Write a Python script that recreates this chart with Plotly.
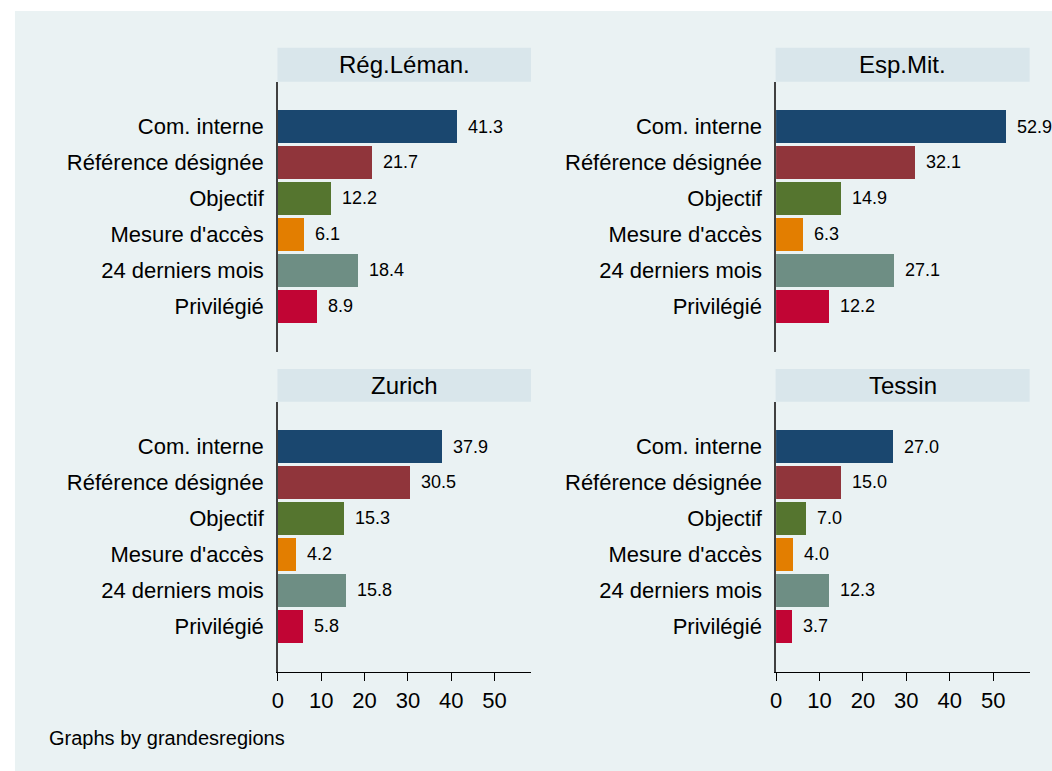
import plotly.graph_objects as go

W, H = 1052, 771

categories = ["Com. interne", "Référence désignée", "Objectif", "Mesure d'accès",
              "24 derniers mois", "Privilégié"]
colors = ["#1A476F", "#90353B", "#55752F", "#E37E00", "#6E8E84", "#C10534"]

regions = ["Rég.Léman.", "Esp.Mit.", "Zurich", "Tessin"]
leman = [41.3, 21.7, 12.2, 6.1, 18.4, 8.9]
espmit = [52.9, 32.1, 14.9, 6.3, 27.1, 12.2]
zurich = [37.9, 30.5, 15.3, 4.2, 15.8, 5.8]
tessin = [27.0, 15.0, 7.0, 4.0, 12.3, 3.7]
values = [leman, espmit, zurich, tessin]

x_ticks = [0, 10, 20, 30, 40, 50]

BG = "#EAF2F3"
STRIP = "#D9E6EB"
FONT = "Liberation Sans, Arial, sans-serif"


def px_x(p):
    return p / W


def px_y(p):
    return 1 - p / H


# panel positions in page pixels
col_x = [(273.5, 528.0), (774.5, 1029.5)]
row_y = [(82.0, 352.0), (402.0, 672.0)]
strip_y = [(47.7, 81.7), (369.0, 401.7)]

fig = go.Figure()
shapes = []
annotations = []

# light background box
shapes.append(dict(type="rect", xref="paper", yref="paper", layer="below",
                   x0=px_x(9), x1=1, y0=0, y1=px_y(11),
                   fillcolor=BG, line_width=0))

for k, (name, vals) in enumerate(zip(regions, values)):
    r, c = divmod(k, 2)
    ax = "" if k == 0 else str(k + 1)
    x0, x1 = col_x[c]
    y0, y1 = row_y[r]

    fig.add_trace(go.Bar(
        x=vals, y=categories, orientation="h",
        marker=dict(color=colors, line_width=0),
        width=0.92, showlegend=False,
        xaxis="x" + ax, yaxis="y" + ax,
        hovertemplate="%{y}: %{x:.1f}<extra>" + name + "</extra>",
    ))

    for cat, v in zip(categories, vals):
        annotations.append(dict(
            x=v, y=cat, xref="x" + ax, yref="y" + ax,
            text=f"{v:.1f}", showarrow=False, xanchor="left", xshift=9,
            font=dict(size=18, color="black", family=FONT),
        ))

    bottom = r == 1
    fig.update_layout({
        "xaxis" + ax: dict(
            domain=[px_x(x0), px_x(x1)], range=[0, 58.4], anchor="y" + ax,
            showgrid=True, gridcolor=BG, gridwidth=1.5, zeroline=False,
            tickvals=x_ticks, showticklabels=bottom,
            ticks="outside" if bottom else "", ticklen=8, tickcolor="black",
            showline=bottom, linecolor="black", linewidth=1.2,
            tickfont=dict(size=22, color="black", family=FONT),
            fixedrange=True,
        ),
        "yaxis" + ax: dict(
            domain=[px_y(y1), px_y(y0)], anchor="x" + ax,
            type="category", range=[6.28, -1.24],
            showgrid=False, zeroline=False,
            showline=True, linecolor="#404040", linewidth=1.5,
            ticks="", ticklabelstandoff=8,
            tickfont=dict(size=22, color="black", family=FONT),
            fixedrange=True,
        ),
    })

    sy0, sy1 = strip_y[r]
    shapes.append(dict(type="rect", xref="paper", yref="paper", layer="below",
                       x0=px_x(x0 - 0.5), x1=px_x(x1), y0=px_y(sy1), y1=px_y(sy0),
                       fillcolor=STRIP, line_width=0))
    annotations.append(dict(
        x=(px_x(x0) + px_x(x1)) / 2, y=(px_y(sy0) + px_y(sy1)) / 2,
        xref="paper", yref="paper", text=name, showarrow=False,
        xanchor="center", yanchor="middle",
        font=dict(size=24, color="black", family=FONT),
    ))

annotations.append(dict(
    x=px_x(41), y=px_y(738), xref="paper", yref="paper",
    text="Graphs by grandesregions", showarrow=False,
    xanchor="left", yanchor="middle",
    font=dict(size=20, color="black", family=FONT),
))

fig.update_layout(
    width=W, height=H,
    margin=dict(l=0, r=0, t=0, b=0),
    paper_bgcolor="white",
    plot_bgcolor="white",
    bargap=0,
    shapes=shapes,
    annotations=annotations,
    font=dict(family=FONT, color="black"),
)

# drop the default body margin so the figure fills the window exactly
fig.write_html(
    "out.html",
    config={"displayModeBar": False},
    post_script="document.body.style.margin='0';document.body.style.overflow='hidden';",
)
